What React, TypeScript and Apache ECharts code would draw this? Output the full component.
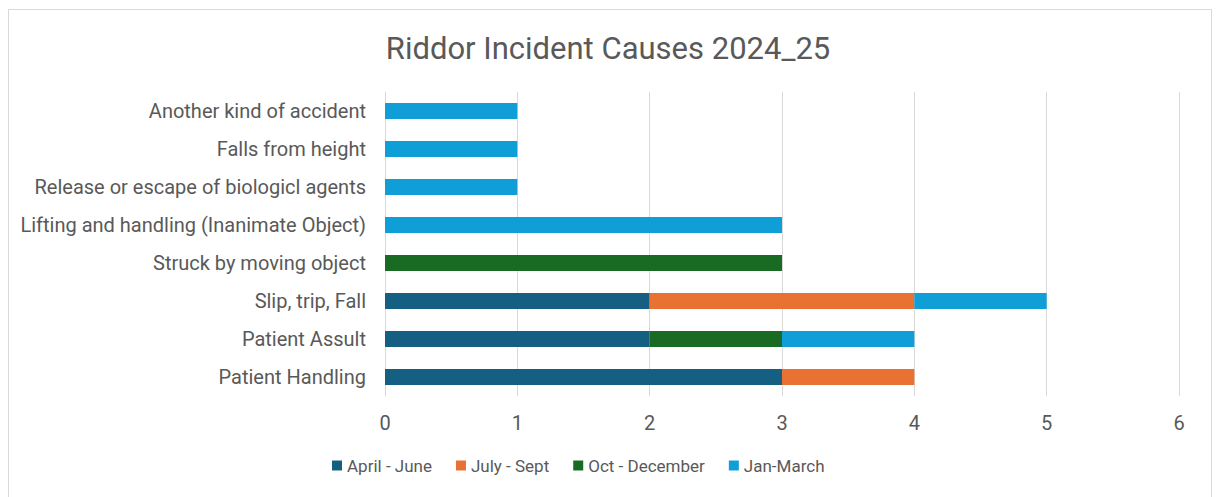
import React, { useEffect, useRef } from "react";
import * as echarts from "echarts";

const categories = [
  "Patient Handling",
  "Patient Assult",
  "Slip, trip, Fall",
  "Struck by moving object",
  "Lifting and handling (Inanimate Object)",
  "Release or escape of biologicl agents",
  "Falls from height",
  "Another kind of accident",
];
const seriesNames = ["April - June", "July - Sept", "Oct - December", "Jan-March"];
const aprilJune = [3, 2, 2, null, null, null, null, null];
const julySept = [1, null, 2, null, null, null, null, null];
const octDec = [null, 1, null, 3, null, null, null, null];
const janMarch = [null, 1, 1, null, 3, 1, 1, 1];
const colors = ["#156082", "#E97132", "#196B24", "#0F9ED5"];

const FONT = "Roboto";

export default function App() {
  const ref = useRef<HTMLDivElement>(null);
  useEffect(() => {
    const chart = echarts.init(ref.current!, null, { renderer: "svg" });
    const values = [aprilJune, julySept, octDec, janMarch];
    chart.setOption({
      animation: false,
      textStyle: { fontFamily: FONT },
      graphic: [
        {
          type: "rect",
          shape: { x: 8.5, y: 9.5, width: 1203, height: 520 },
          style: { fill: "none", stroke: "#d9d9d9", lineWidth: 1 },
          silent: true,
        },
      ],
      title: {
        text: "Riddor Incident Causes 2024_25",
        left: "center",
        top: 28,
        textStyle: { fontFamily: FONT, fontSize: 31, fontWeight: "normal", color: "#595959" },
      },
      legend: {
        bottom: 18,
        left: 327,
        itemWidth: 10,
        itemHeight: 10,
        itemGap: 24,
        icon: "rect",
        data: seriesNames,
        textStyle: { fontFamily: FONT, fontSize: 17, color: "#595959" },
      },
      grid: { left: 385, right: 37, top: 92, bottom: 101, containLabel: false },
      xAxis: {
        type: "value",
        min: 0,
        max: 6,
        interval: 1,
        axisLine: { show: false },
        axisTick: { show: false },
        splitLine: { lineStyle: { color: "#d9d9d9", width: 1 } },
        axisLabel: { fontFamily: FONT, fontSize: 20, color: "#595959", margin: 17 },
      },
      yAxis: {
        type: "category",
        data: categories,
        axisLine: { show: true, lineStyle: { color: "#d9d9d9" } },
        axisTick: { show: false },
        axisLabel: { fontFamily: FONT, fontSize: 20, color: "#595959", margin: 19 },
      },
      series: seriesNames.map((name, i) => ({
        name,
        type: "bar",
        stack: "total",
        barWidth: 16,
        data: values[i],
        itemStyle: { color: colors[i] },
      })),
    });
    return () => chart.dispose();
  }, []);
  return (
    <div
      ref={ref}
      style={{ position: "fixed", left: 0, top: 0, width: 1216, height: 497, background: "#fff" }}
    />
  );
}
